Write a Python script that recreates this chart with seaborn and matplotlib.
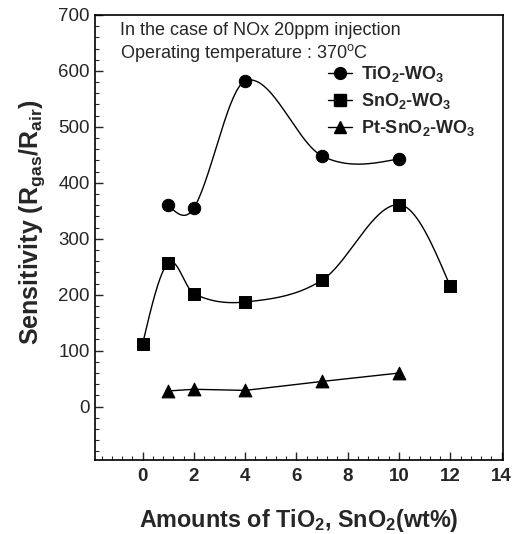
import numpy as np
import pandas as pd
import matplotlib
matplotlib.use("Agg")
import matplotlib.pyplot as plt
from matplotlib.lines import Line2D
from matplotlib.ticker import MultipleLocator
import seaborn as sns

# ---- data ----
tio2_x = [1, 2, 4, 7, 10]
tio2_y = [360, 355, 582, 448, 443]
sno2_x = [0, 1, 2, 4, 7, 10, 12]
sno2_y = [112, 257, 202, 187, 226, 361, 215]
pt_x = [1, 2, 4, 7, 10]
pt_y = [28, 31, 29, 45, 60]
labels = ["TiO$_2$-WO$_3$", "SnO$_2$-WO$_3$", "Pt-SnO$_2$-WO$_3$"]
x_ticks = [0, 2, 4, 6, 8, 10, 12, 14]
y_ticks = [0, 100, 200, 300, 400, 500, 600, 700]


def smooth_curve(x, y, n=60):
    """Hermite (Catmull-Rom style) curve through the data points - line styling only."""
    x = np.asarray(x, float); y = np.asarray(y, float)
    k = len(x)
    d = np.diff(y) / np.diff(x)
    m = np.zeros(k)
    for i in range(1, k - 1):
        m[i] = (y[i + 1] - y[i - 1]) / (x[i + 1] - x[i - 1])
    m[0] = (3 * d[0] - m[1]) / 2
    m[-1] = (3 * d[-1] - m[-2]) / 2
    xs_all, ys_all = [], []
    for i in range(k - 1):
        h = x[i + 1] - x[i]
        t = np.linspace(0, 1, n)
        h00 = 2 * t**3 - 3 * t**2 + 1
        h10 = t**3 - 2 * t**2 + t
        h01 = -2 * t**3 + 3 * t**2
        h11 = t**3 - t**2
        xs_all.append(x[i] + t * h)
        ys_all.append(h00 * y[i] + h10 * h * m[i] + h01 * y[i + 1] + h11 * h * m[i + 1])
    return np.concatenate(xs_all), np.concatenate(ys_all)


sns.set_theme(style="ticks")
plt.rcParams['font.family'] = ['Liberation Sans', 'DejaVu Sans']
plt.rcParams['mathtext.default'] = 'regular'

fig = plt.figure(figsize=(5.2, 5.34), dpi=100)
ax = fig.add_axes([0.183, 0.139, 0.784, 0.833])

# smooth curves
for xv, yv in [(tio2_x, tio2_y), (sno2_x, sno2_y)]:
    xs, ys = smooth_curve(xv, yv)
    sns.lineplot(x=xs, y=ys, ax=ax, color="black", lw=1.0, sort=False)
sns.lineplot(x=pt_x, y=pt_y, ax=ax, color="black", lw=1.0)

sns.scatterplot(x=tio2_x, y=tio2_y, ax=ax, marker="o", s=80, color="black", edgecolor="black", zorder=3)
sns.scatterplot(x=sno2_x, y=sno2_y, ax=ax, marker="s", s=75, color="black", edgecolor="black", zorder=3)
sns.scatterplot(x=pt_x, y=pt_y, ax=ax, marker="^", s=85, color="black", edgecolor="black", zorder=3)

ax.set_xlim(-1.85, 14.05)
ax.set_ylim(-95, 700)
ax.set_xticks(x_ticks)
ax.set_yticks(y_ticks)
ax.xaxis.set_minor_locator(MultipleLocator(0.4))
ax.yaxis.set_minor_locator(MultipleLocator(20))
ax.tick_params(which="major", direction="in", length=6, width=1)
ax.tick_params(which="minor", direction="in", length=3, width=0.8)
ax.tick_params(axis="x", which="major", labelsize=13.5, pad=6)
ax.tick_params(axis="y", which="major", labelsize=13.5, pad=4)
for lab in ax.get_xticklabels():
    lab.set_fontweight("bold")
for sp in ax.spines.values():
    sp.set_linewidth(1.2)
    sp.set_color("black")

ax.set_xlabel("Amounts of TiO$_2$, SnO$_2$(wt%)", fontsize=16.8, fontweight="bold", labelpad=16)
ax.set_ylabel("Sensitivity (R$_{gas}$/R$_{air}$)", fontsize=18, fontweight="bold")
ax.yaxis.set_label_coords(-0.118, 0.535)

ax.text(0.062, 0.985, "In the case of NOx 20ppm injection", transform=ax.transAxes,
        fontsize=13, va="top", ha="left")
ax.text(0.062, 0.94, "Operating temperature : 370$^{o}$C", transform=ax.transAxes,
        fontsize=13, va="top", ha="left")

handles = [
    Line2D([], [], color="black", lw=1, marker="o", markersize=8.5),
    Line2D([], [], color="black", lw=1, marker="s", markersize=8),
    Line2D([], [], color="black", lw=1, marker="^", markersize=9),
]
leg = ax.legend(handles, labels, loc="upper left", bbox_to_anchor=(0.572, 0.89),
                frameon=False, handlelength=1.3, labelspacing=0.4, handletextpad=0.5,
                borderpad=0, borderaxespad=0,
                prop={"weight": "bold", "size": 13})

fig.savefig("out.png", dpi=100)
